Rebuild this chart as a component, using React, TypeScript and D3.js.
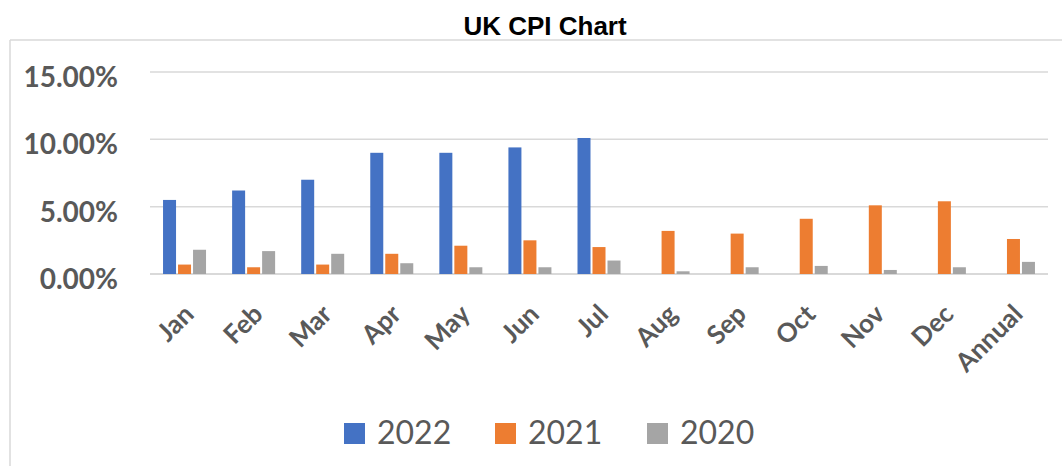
import React from "react";
import * as d3 from "d3";

const categories = ["Jan", "Feb", "Mar", "Apr", "May", "Jun", "Jul", "Aug", "Sep", "Oct", "Nov", "Dec", "Annual"];
const seriesNames = ["2022", "2021", "2020"];
const values2022: (number | null)[] = [5.5, 6.2, 7.0, 9.0, 9.0, 9.4, 10.1, null, null, null, null, null, null];
const values2021: (number | null)[] = [0.7, 0.5, 0.7, 1.5, 2.1, 2.5, 2.0, 3.2, 3.0, 4.1, 5.1, 5.4, 2.6];
const values2020: (number | null)[] = [1.8, 1.7, 1.5, 0.8, 0.5, 0.5, 1.0, 0.2, 0.5, 0.6, 0.3, 0.5, 0.9];
const yTicks = [0, 5, 10, 15];
const colors = ["#4472C4", "#ED7D31", "#A5A5A5"];

export default function App() {
  const W = 1062, H = 466;
  const x0 = 150, x1 = 1048, yTop = 72, yZero = 274;
  const x = d3.scaleBand<string>().domain(categories).range([x0, x1]).paddingInner(0).paddingOuter(0);
  const y = d3.scaleLinear().domain([0, 15]).range([yZero, yTop]);
  const bw = 13, gap = 2;
  const series = [values2022, values2021, values2020];
  const textColor = "#595959";
  return (
    <svg width={W} height={H} style={{ position: "absolute", left: 0, top: 0 }}>
      <rect x={0} y={0} width={W} height={H} fill="#fff" />
      <line x1={10} x2={W} y1={40} y2={40} stroke="#d9d9d9" strokeWidth={1.5} />
      <line x1={10} x2={10} y1={40} y2={H} stroke="#d9d9d9" strokeWidth={1.5} />
      <text x={545} y={35} textAnchor="middle" fontFamily="'Liberation Sans', Arial, sans-serif" fontWeight="bold" fontSize={26} fill="#000">UK CPI Chart</text>
      {yTicks.map((t) => (
        <g key={t}>
          <line x1={x0} x2={x1} y1={y(t)} y2={y(t)} stroke="#d9d9d9" strokeWidth={t === 0 ? 2 : 1.5} />
          <text x={118} y={y(t) + 15} textAnchor="end" fontFamily="Lato, sans-serif" fontWeight="bold" fontSize={28} fill={textColor}>
            {d3.format(".2f")(t) + "%"}
          </text>
        </g>
      ))}
      {categories.map((c, i) => {
        const cx = (x(c) as number) + x.bandwidth() / 2;
        const groupW = 3 * bw + 2 * gap;
        return (
          <g key={c}>
            {series.map((s, k) => {
              const v = s[i];
              if (v == null) return null;
              const bx = cx - groupW / 2 + k * (bw + gap);
              return <rect key={k} x={bx} y={y(v)} width={bw} height={yZero - y(v)} fill={colors[k]} />;
            })}
            <text
              transform={`translate(${cx - 3},${302}) rotate(-45)`}
              textAnchor="end"
              dy="0.75em"
              fontFamily="Lato, sans-serif"
              fontWeight="bold"
              fontSize={26}
              fill={textColor}
            >
              {c}
            </text>
          </g>
        );
      })}
      {seriesNames.map((n, k) => {
        const lx = [344, 495, 647][k];
        return (
          <g key={n}>
            <rect x={lx} y={423} width={21} height={21} fill={colors[k]} />
            <text x={lx + 33} y={444} fontFamily="Lato, sans-serif" fontSize={32} fill={textColor}>{n}</text>
          </g>
        );
      })}
    </svg>
  );
}
